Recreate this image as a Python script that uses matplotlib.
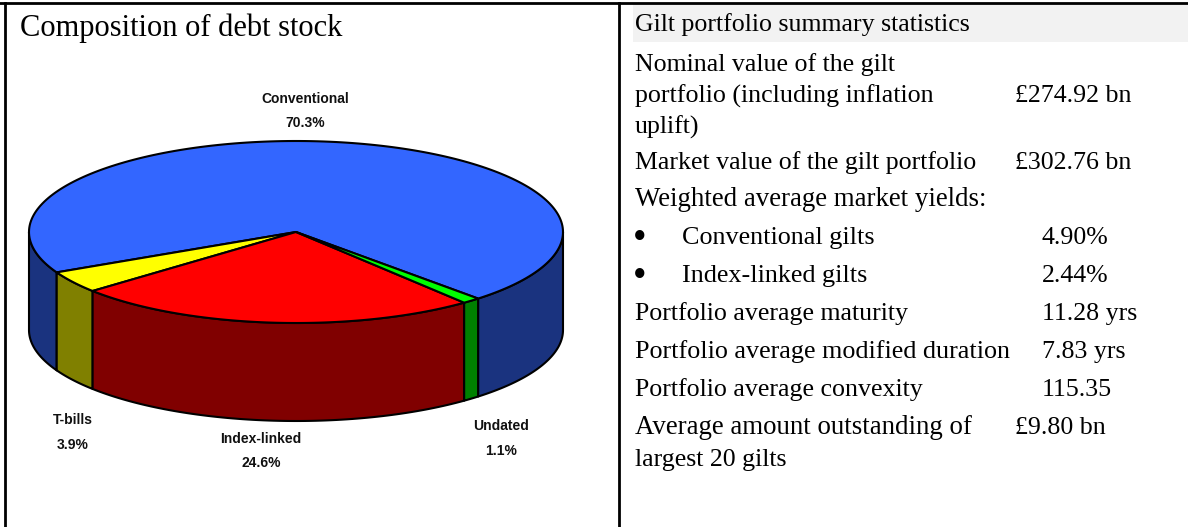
import numpy as np
import matplotlib
matplotlib.use("Agg")
import matplotlib.pyplot as plt
from matplotlib.patches import Polygon, Rectangle


# ====================================
# DATA
# ====================================

slice_names = ["Conventional", "T-bills", "Index-linked", "Undated"]
slice_shares = [70.3, 3.9, 24.6, 1.1]
slice_labels = ["70.3%", "3.9%", "24.6%", "1.1%"]

stat_lines = [
    "Nominal value of the gilt",
    "portfolio (including inflation",
    "uplift)",
    "Market value of the gilt portfolio",
    "Weighted average market yields:",
    "Portfolio average maturity",
    "Portfolio average modified duration",
    "Portfolio average convexity",
    "Average amount outstanding of",
    "largest 20 gilts",
]
bullet_lines = ["Conventional gilts", "Index-linked gilts"]
stat_values = ["£274.92 bn", "£302.76 bn", "11.28 yrs", "7.83 yrs", "115.35", "£9.80 bn"]
bullet_values = ["4.90%", "2.44%"]


# ====================================
# STYLE / LAYOUT (pixels)
# ====================================

top_colors = ["#3366ff", "#ffff00", "#ff0000", "#00ff00"]
side_colors = ["#1a337f", "#808000", "#800000", "#008000"]

cx, cy = 296, 232
rx, ry = 267, 91
depth = 98
start_angle = -47.0

stat_base = [70.7, 102.2, 133.7, 168.7, 205.7, 319.7, 357.7, 395.7, 433.7, 465.7]
stat_size = [18.6, 18.7, 18.6, 18.6, 19.4, 18.6, 18.8, 18.6, 19.4, 18.6]
bullet_base = [243.7, 281.7]
value_base = [102.2, 168.7, 319.7, 357.7, 395.7, 433.7]
value_x = [1015, 1015, 1042, 1042, 1042, 1015]
label_pos = [(305, 111), (73, 432.5), (261, 451), (501, 438.5)]


def ellipse_xy(angles, drop=0):
    rad = np.radians(angles)
    return cx + rx * np.cos(rad), cy - ry * np.sin(rad) + drop


def draw_side(a0, a1, color):
    angles = np.linspace(a0, a1, 80)
    x, y = ellipse_xy(angles)
    x2, y2 = ellipse_xy(angles[::-1], depth)
    ax.add_patch(Polygon(
        np.column_stack([np.r_[x, x2], np.r_[y, y2]]),
        facecolor=color,
        edgecolor="black",
        linewidth=1.5,
        joinstyle="round"
    ))


# ====================================
# FIGURE
# ====================================

fig = plt.figure(figsize=(11.88, 5.27), dpi=100)
ax = fig.add_axes([0, 0, 1, 1])
ax.set_xlim(0, 1188)
ax.set_ylim(527, 0)
ax.axis("off")

# Table frame
ax.add_patch(Rectangle((633, 3), 555, 38.5, facecolor="#f2f2f2", edgecolor="none"))
ax.plot([0, 1188], [3, 3], color="black", lw=2)
ax.plot([5, 5], [3, 527], color="black", lw=2)
ax.plot([619, 619], [3, 527], color="black", lw=2)

ax.text(20, 36, "Composition of debt stock", family="Liberation Serif",
        fontsize=22, color="black")

# Pie
shares = np.array(slice_shares) / sum(slice_shares) * 360
edges = start_angle + np.r_[0, np.cumsum(shares)]

for i in range(len(shares)):
    a0, a1 = edges[i], edges[i + 1]
    # only the part of the rim facing the viewer shows
    for lo, hi in [(-180, 0), (180, 360)]:
        s0, s1 = max(a0, lo), min(a1, hi)
        if s1 > s0:
            draw_side(s0, s1, side_colors[i])

for i in range(len(shares)):
    angles = np.linspace(edges[i], edges[i + 1], 200)
    x, y = ellipse_xy(angles)
    ax.add_patch(Polygon(
        np.column_stack([np.r_[cx, x], np.r_[cy, y]]),
        facecolor=top_colors[i],
        edgecolor="black",
        linewidth=1.5,
        joinstyle="round"
    ))

for name, share, (lx, ly) in zip(slice_names, slice_labels, label_pos):
    ax.text(lx, ly, name + "\n" + share, family="Liberation Sans", weight="bold",
            fontsize=10, ha="center", va="center", linespacing=1.95, color="#111111")

# Statistics table
serif = dict(family="Liberation Serif", color="black")

ax.text(635, 30.7, "Gilt portfolio summary statistics", fontsize=18.6, **serif)

for line, base, size in zip(stat_lines, stat_base, stat_size):
    ax.text(635, base, line, fontsize=size, **serif)

for line, value, base in zip(bullet_lines, bullet_values, bullet_base):
    ax.text(640, base - 4, "•", fontsize=28, ha="center", va="center", **serif)
    ax.text(682, base, line, fontsize=18.8, **serif)
    ax.text(1042, base, value, fontsize=18.6, **serif)

for value, x, base in zip(stat_values, value_x, value_base):
    ax.text(x, base, value, fontsize=18.6, **serif)

plt.savefig("out.png", dpi=100)
